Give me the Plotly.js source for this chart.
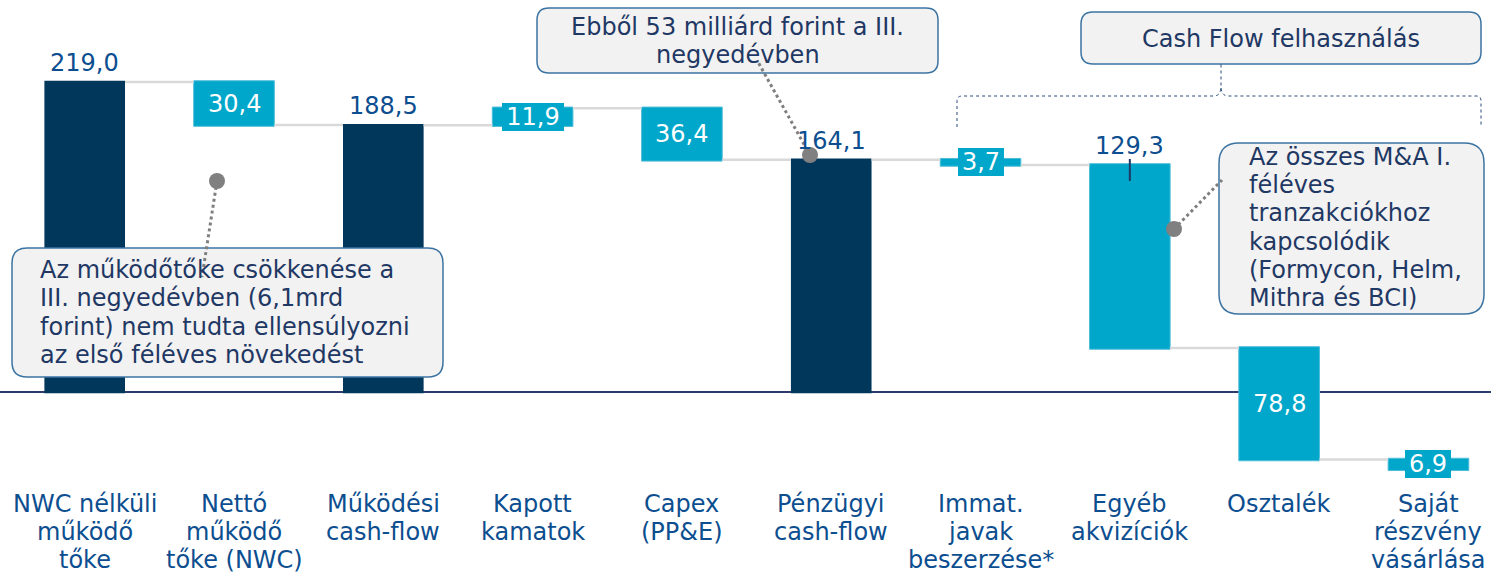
<!DOCTYPE html>
<html><head><meta charset="utf-8">
<script src="https://cdn.plot.ly/plotly-3.0.1.min.js"></script>
<style>html,body{margin:0;padding:0;background:#fff}#chart{width:1491px;height:573px}</style>
</head><body><div id="chart"></div>
<script>
// ---------- DATA ----------
const categories = [
  "NWC nélküli<br>működő<br>tőke",
  "Nettó<br>működő<br>tőke (NWC)",
  "Működési<br>cash-flow",
  "Kapott<br>kamatok",
  "Capex<br>(PP&E)",
  "Pénzügyi<br>cash-flow",
  "Immat.<br>javak<br>beszerzése*",
  "Egyéb<br>akvizíciók",
  "Osztalék",
  "Saját<br>részvény<br>vásárlása"
];
const values   = [219.0, -30.4, 188.5, 11.9, -36.4, 164.1, -3.7, -129.3, -78.8, -6.9];
const measures = ["absolute","relative","absolute","relative","relative","absolute","relative","relative","relative","relative"];
const valueLabels = ["219,0","30,4","188,5","11,9","36,4","164,1","3,7","129,3","78,8","6,9"];
const calloutNWC = ["Az működőtőke csökkenése a","III. negyedévben (6,1mrd","forint) nem tudta ellensúlyozni","az első féléves növekedést"];
const calloutQ3 = ["Ebből 53 milliárd forint a III.","negyedévben"];
const calloutUse = ["Cash Flow felhasználás"];
const calloutMA = ["Az összes M&A I.","féléves","tranzakciókhoz","kapcsolódik","(Formycon, Helm,","Mithra és BCI)"];

// ---------- STYLE ----------
const W = 1491, H = 573;
const NAVY = "#02375c", CYAN = "#00a7ca", LBLUE = "#0c4e8f", TXT = "#1f3864";
const FONT = "Verdana, 'DejaVu Sans', sans-serif";
const FS = 24, LS = 28.35;
const labelMode = ["above","inside","above","box","inside","above","box","above","inside","box"];
const X = px => px / W, Y = py => 1 - py / H;
const yPerPx = (276.94 + 127.87) / H;

// cumulative levels
const starts = [], ends = [];
let level = 0;
values.forEach((v, i) => {
  if (measures[i] === "absolute") { starts.push(0); ends.push(v); level = v; }
  else { starts.push(level); ends.push(level + v); level += v; }
});
const idx = values.map((_, i) => i);

const annotations = [];
// value labels
valueLabels.forEach((t, i) => {
  const top = Math.max(starts[i], ends[i]), mid = (starts[i] + ends[i]) / 2;
  const m = labelMode[i];
  if (m === "above") {
    annotations.push({x: i, y: top, xref: "x", yref: "y", text: t, showarrow: false,
      yanchor: "middle", yshift: 19, font: {family: FONT, size: FS, color: LBLUE}});
  } else if (m === "inside") {
    annotations.push({x: i, y: mid, xref: "x", yref: "y", text: t, showarrow: false,
      yanchor: "middle", font: {family: FONT, size: FS, color: "#ffffff"}});
  } else {
    annotations.push({x: i, y: mid, xref: "x", yref: "y", text: t, showarrow: false,
      yanchor: "middle", bgcolor: CYAN, borderpad: 0, borderwidth: 0,
      width: 16 * t.length - 2, height: 28,
      font: {family: FONT, size: FS, color: "#ffffff"}});
  }
});
// category labels (line by line)
categories.forEach((c, i) => {
  c.split("<br>").forEach((ln, k) => {
    annotations.push({x: i, xref: "x", yref: "paper", y: Y(503.5 + k * LS), text: ln,
      showarrow: false, yanchor: "middle", xanchor: "center",
      font: {family: FONT, size: FS, color: LBLUE}});
  });
});
// callout texts
function addLines(lines, xpx, firstCenter, anchor) {
  lines.forEach((ln, k) => {
    annotations.push({xref: "paper", yref: "paper", x: X(xpx), y: Y(firstCenter + k * LS),
      text: ln, showarrow: false, xanchor: anchor, yanchor: "middle",
      font: {family: FONT, size: FS, color: TXT}});
  });
}
addLines(calloutNWC, 38, 270, "left");
addLines(calloutQ3, 737.5, 26.7, "center");
addLines(calloutUse, 1281, 38.5, "center");
addLines(calloutMA, 1247, 156.7, "left");

// shapes
function rr(x0, y0, x1, y1, r) {
  const p = (a, b) => X(a) + "," + Y(b);
  return "M" + p(x0 + r, y0) + " L" + p(x1 - r, y0) + " Q" + p(x1, y0) + " " + p(x1, y0 + r) +
    " L" + p(x1, y1 - r) + " Q" + p(x1, y1) + " " + p(x1 - r, y1) +
    " L" + p(x0 + r, y1) + " Q" + p(x0, y1) + " " + p(x0, y1 - r) +
    " L" + p(x0, y0 + r) + " Q" + p(x0, y0) + " " + p(x0 + r, y0) + " Z";
}
const boxStyle = {type: "path", xref: "paper", yref: "paper", fillcolor: "#f2f2f2",
  line: {color: "#3b74a2", width: 1.5}, layer: "above"};
const dotLine = (ax, ay, bx, by) => ({type: "line", xref: "paper", yref: "paper",
  x0: X(ax), y0: Y(ay), x1: X(bx), y1: Y(by), line: {color: "#7f7f7f", width: 3, dash: "dot"}});
const dot = (cx, cy) => ({type: "circle", xref: "paper", yref: "paper",
  x0: X(cx - 8), x1: X(cx + 8), y0: Y(cy - 8), y1: Y(cy + 8),
  fillcolor: "#808080", line: {width: 0}});
const bp = (a, b) => X(a) + "," + Y(b);
const bracket = "M" + bp(957, 127) + " L" + bp(957, 101) + " Q" + bp(957, 96) + " " + bp(962, 96) +
  " L" + bp(1214, 96) + " Q" + bp(1220, 96) + " " + bp(1221, 88) + " L" + bp(1221, 64) +
  " M" + bp(1221, 88) + " Q" + bp(1222, 96) + " " + bp(1228, 96) + " L" + bp(1476, 96) +
  " Q" + bp(1481, 96) + " " + bp(1481, 101) + " L" + bp(1481, 127);

const eTop = Math.max(starts[7], ends[7]);
const shapes = [
  {type: "line", xref: "paper", yref: "y", x0: 0, x1: 1, y0: 0, y1: 0,
   line: {color: "#2c3b6b", width: 2}, layer: "below"},
  {type: "line", xref: "x", yref: "y", x0: 7, x1: 7, y0: eTop + 6 * yPerPx, y1: eTop - 16 * yPerPx,
   line: {color: TXT, width: 2}},
  Object.assign({path: rr(12, 248, 443, 377, 15)}, boxStyle),
  Object.assign({path: rr(537, 8, 938, 73, 12)}, boxStyle),
  Object.assign({path: rr(1081, 12, 1481, 64, 12)}, boxStyle),
  Object.assign({path: rr(1219, 143, 1484, 314, 20)}, boxStyle),
  {type: "path", xref: "paper", yref: "paper", path: bracket, line: {color: "#2b4a7a", width: 1, dash: "dot"}},
  dotLine(217, 181, 202, 277),
  dotLine(810, 155, 758, 62),
  dotLine(1174, 229, 1222, 180),
  dot(217, 181), dot(810, 155), dot(1174, 229)
];

const trace = {
  type: "waterfall", x: idx, y: values, measure: measures, width: 0.54,
  increasing: {marker: {color: CYAN, line: {color: "#4dbcd8", width: 1}}},
  decreasing: {marker: {color: CYAN, line: {color: "#4dbcd8", width: 1}}},
  totals: {marker: {color: NAVY, line: {color: NAVY, width: 0}}},
  connector: {mode: "between", line: {color: "#d9d9d9", width: 2.5}},
  textinfo: "none", hoverinfo: "skip"
};

const layout = {
  width: W, height: H, margin: {l: 0, r: 0, t: 0, b: 0},
  paper_bgcolor: "#ffffff", plot_bgcolor: "#ffffff", showlegend: false,
  xaxis: {range: [-0.5673, 9.419], visible: false, fixedrange: true},
  yaxis: {range: [-127.87, 276.94], visible: false, fixedrange: true},
  annotations: annotations, shapes: shapes,
  font: {family: FONT}
};
Plotly.newPlot("chart", [trace], layout, {displayModeBar: false, staticPlot: true});
</script></body></html>
